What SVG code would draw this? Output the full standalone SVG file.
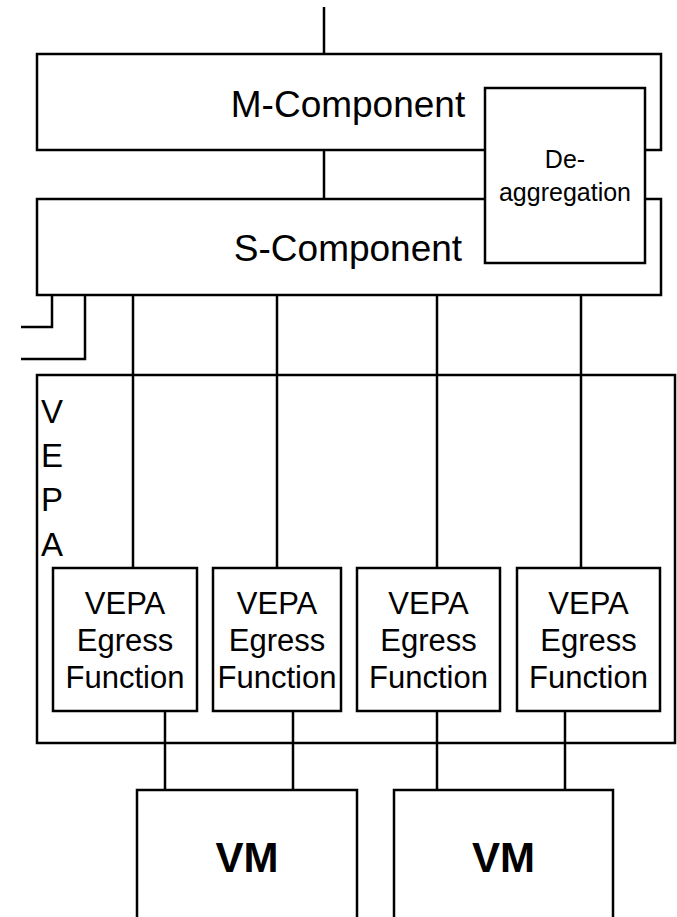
<svg xmlns="http://www.w3.org/2000/svg" width="677" height="917" viewBox="0 0 677 917">
<style>
.b{fill:#fff;stroke:#000;stroke-width:2.5}
.c{fill:none;stroke:#000;stroke-width:2.5}
text{font-family:"Liberation Sans",Arial,Helvetica,sans-serif;fill:#000}
.big{font-size:37px;text-anchor:middle}
.eg{font-size:31px;text-anchor:middle}
.da{font-size:25px;text-anchor:middle}
.vm{font-size:42px;font-weight:bold;text-anchor:middle}
.vl{font-size:33px}
</style>
<rect width="677" height="917" fill="#fff"/>
<g id="connectors">
<line class="c" x1="324" y1="7" x2="324" y2="54"/>
<line class="c" x1="324" y1="150" x2="324" y2="199"/>
<line class="c" x1="133" y1="295" x2="133" y2="568"/>
<line class="c" x1="277" y1="295" x2="277" y2="568"/>
<line class="c" x1="437" y1="295" x2="437" y2="568"/>
<line class="c" x1="581" y1="295" x2="581" y2="568"/>
<line class="c" x1="165" y1="711" x2="165" y2="790"/>
<line class="c" x1="293" y1="711" x2="293" y2="790"/>
<line class="c" x1="437" y1="711" x2="437" y2="790"/>
<line class="c" x1="565" y1="711" x2="565" y2="790"/>
<polyline class="c" points="52,295 52,327 21,327"/>
<polyline class="c" points="85,295 85,359 21,359"/>
</g>
<g id="m-component">
<rect class="b" x="37" y="54" width="624" height="96"/>
<text class="big" x="348" y="117">M-Component</text>
</g>
<g id="s-component">
<rect class="b" x="37" y="199" width="624" height="96"/>
<text class="big" x="348" y="261">S-Component</text>
</g>
<g id="de-aggregation">
<rect class="b" x="485" y="88" width="160" height="175"/>
<text class="da" x="565" y="168">De-</text>
<text class="da" x="565" y="201">aggregation</text>
</g>
<g id="vepa">
<rect class="c" x="37" y="375" width="638" height="368"/>
<text class="vl" x="41" y="423">V</text>
<text class="vl" x="41" y="467">E</text>
<text class="vl" x="41" y="511">P</text>
<text class="vl" x="41" y="556">A</text>
</g>
<g id="egress1">
<rect class="b" x="53" y="568" width="144" height="143"/>
<text class="eg" x="125" y="614">VEPA</text>
<text class="eg" x="125" y="651">Egress</text>
<text class="eg" x="125" y="688">Function</text>
</g>
<g id="egress2">
<rect class="b" x="213" y="568" width="128" height="143"/>
<text class="eg" x="277" y="614">VEPA</text>
<text class="eg" x="277" y="651">Egress</text>
<text class="eg" x="277" y="688">Function</text>
</g>
<g id="egress3">
<rect class="b" x="357" y="568" width="143" height="143"/>
<text class="eg" x="428.5" y="614">VEPA</text>
<text class="eg" x="428.5" y="651">Egress</text>
<text class="eg" x="428.5" y="688">Function</text>
</g>
<g id="egress4">
<rect class="b" x="517" y="568" width="143" height="143"/>
<text class="eg" x="588.5" y="614">VEPA</text>
<text class="eg" x="588.5" y="651">Egress</text>
<text class="eg" x="588.5" y="688">Function</text>
</g>
<g id="vm1">
<rect class="b" x="137" y="790" width="220" height="150"/>
<text class="vm" x="247" y="872">VM</text>
</g>
<g id="vm2">
<rect class="b" x="394" y="790" width="219" height="150"/>
<text class="vm" x="503.5" y="872">VM</text>
</g>
</svg>
